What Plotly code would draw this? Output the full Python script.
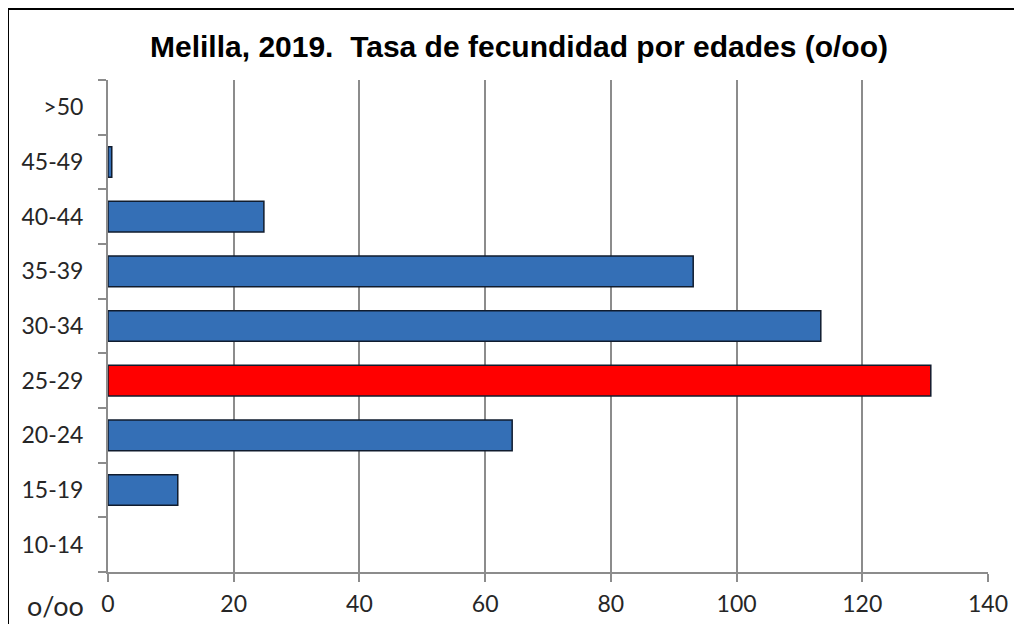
import plotly.graph_objects as go

categories = ["10-14", "15-19", "20-24", "25-29", "30-34", "35-39", "40-44", "45-49", ">50"]
values = [0.0, 11.1, 64.3, 130.9, 113.4, 93.1, 24.8, 0.6, 0.0]
highlight = "25-29"
x_ticks = [0, 20, 40, 60, 80, 100, 120, 140]

colors = ["#ff0000" if c == highlight else "#346fb6" for c in categories]
line_w = [1.5 if v > 0 else 0 for v in values]

fig = go.Figure(go.Bar(
    y=categories, x=values, orientation="h",
    marker=dict(color=colors, line=dict(color="#101c2e", width=line_w)),
    width=0.56,
))

# page body has an 8px offset, so figure is sized to fill the rest of the window
W, H = 1014, 616
L, R, T, B = 100, 34, 72, 52
pw, ph = W - L - R, H - T - B

tick_font = dict(family="Lato, Carlito, Calibri", size=23, color="#262626")

fig.update_layout(
    width=W, height=H,
    margin=dict(l=L, r=R, t=T, b=B, autoexpand=False),
    paper_bgcolor="white", plot_bgcolor="white",
    showlegend=False,
    title=dict(text="<b>Melilla, 2019.  Tasa de fecundidad por edades (o/oo)</b>",
               x=511 / W, xanchor="center", y=1 - 38 / H, yanchor="middle",
               font=dict(family="Liberation Sans, Arial", size=30, color="#000")),
    xaxis=dict(range=[0, 140], tickvals=x_ticks, showgrid=True, gridcolor="#8c8c8c",
               gridwidth=2, showline=True, linecolor="#8c8c8c", linewidth=2,
               ticks="outside", ticklen=8, tickwidth=2, tickcolor="#8c8c8c",
               ticklabelstandoff=2,
               tickfont=tick_font, zeroline=False, fixedrange=True),
    yaxis=dict(categoryorder="array", categoryarray=categories, showgrid=False,
               showline=True, linecolor="#8c8c8c", linewidth=2,
               ticks="outside", ticklen=8, tickwidth=2, tickcolor="#8c8c8c",
               tickson="boundaries", ticklabelstandoff=18,
               tickfont=tick_font, range=[-0.5, 8.5], fixedrange=True),
    annotations=[dict(text="o/oo", xref="paper", yref="paper",
                      x=(47 - L) / pw, y=(H - B - 597) / ph, xanchor="center", yanchor="middle",
                      showarrow=False,
                      font=dict(family="Lato, Carlito, Calibri", size=27, color="#262626"))],
    shapes=[dict(type="rect", xref="paper", yref="paper",
                 x0=(0 - L) / pw, x1=(1012 - L) / pw,
                 y0=(H - B - 640) / ph, y1=(H - B - 1) / ph,
                 line=dict(color="black", width=2), fillcolor="rgba(0,0,0,0)", layer="below")],
)

fig.write_html("out.html")
